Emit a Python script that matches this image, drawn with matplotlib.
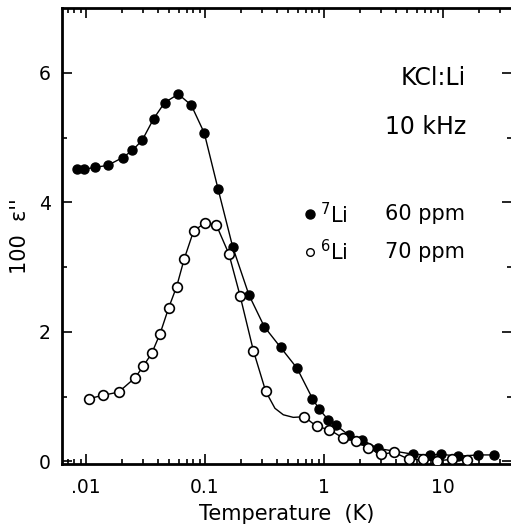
import numpy as np
import matplotlib
matplotlib.use("Agg")
import matplotlib.pyplot as plt
from matplotlib.ticker import FixedLocator, LogLocator, NullFormatter, FixedFormatter

# ---------------- data ----------------
# 7Li, 60 ppm (filled circles)
t_li7 = [0.00845, 0.0096, 0.0119, 0.0152, 0.0203, 0.0245, 0.0297, 0.037, 0.0458,
         0.0597, 0.0767, 0.0986, 0.129, 0.171, 0.234, 0.315, 0.432, 0.593, 0.80,
         0.908, 1.087, 1.26, 1.63, 2.10, 2.84, 5.64, 7.8, 9.7, 13.4, 19.7, 26.7]
e_li7 = [4.51, 4.51, 4.54, 4.57, 4.69, 4.80, 4.96, 5.29, 5.54,
         5.67, 5.50, 5.07, 4.20, 3.31, 2.57, 2.08, 1.76, 1.44, 0.97,
         0.81, 0.64, 0.56, 0.40, 0.33, 0.20, 0.11, 0.10, 0.11, 0.08, 0.10, 0.10]

# 6Li, 70 ppm (open circles)
t_li6 = [0.0107, 0.0138, 0.0188, 0.0258, 0.0303, 0.0357, 0.0419, 0.0495, 0.0578,
         0.067, 0.0803, 0.1, 0.1245, 0.159, 0.197, 0.255, 0.324, 0.682, 0.869,
         1.11, 1.45, 1.86, 2.34, 3.01, 3.87, 5.21, 6.75, 8.85, 11.8, 15.8]
e_li6 = [0.97, 1.02, 1.07, 1.29, 1.47, 1.67, 1.97, 2.37, 2.70,
         3.13, 3.56, 3.68, 3.65, 3.20, 2.56, 1.71, 1.08, 0.69, 0.54,
         0.49, 0.36, 0.31, 0.21, 0.11, 0.14, 0.03, 0.03, 0.01, 0.03, 0.02]

# extra points of the drawn 6Li curve where it bends between two data points
t_li6_curve = [0.387, 0.455, 0.552]
e_li6_curve = [0.82, 0.72, 0.68]

xtick_vals = [0.01, 0.1, 1, 10]
xtick_labels = [".01", "0.1", "1", "10"]
ytick_vals = [0, 2, 4, 6]

# ---------------- style ----------------
plt.rcParams['font.family'] = ['DejaVu Sans']
plt.rcParams['mathtext.fontset'] = 'dejavusans'

fig = plt.figure(figsize=(5.11, 5.29), dpi=100, facecolor="white")
ax = fig.add_axes([61.7 / 511, 65 / 529, 450.3 / 511, 456 / 529])

# curves
ax.plot(t_li7, e_li7, "-", color="k", lw=1.0, zorder=2)
line6 = sorted(zip(t_li6 + t_li6_curve, e_li6 + e_li6_curve))
ax.plot([p[0] for p in line6], [p[1] for p in line6], "-", color="k", lw=1.0, zorder=2)

# points
ax.plot(t_li7, e_li7, "o", ls="none", ms=6.5, mfc="k", mec="k", zorder=3)
ax.plot(t_li6, e_li6, "o", ls="none", ms=7.0, mfc="white", mec="k", mew=1.2, zorder=4)

ax.set_xscale("log")
ax.set_xlim(0.00625, 38)
ax.set_ylim(-0.04, 7.0)

ax.xaxis.set_major_locator(FixedLocator(xtick_vals))
ax.xaxis.set_major_formatter(FixedFormatter(xtick_labels))
ax.xaxis.set_minor_locator(LogLocator(base=10, subs=np.arange(2, 10)))
ax.xaxis.set_minor_formatter(NullFormatter())
ax.yaxis.set_major_locator(FixedLocator(ytick_vals))
ax.yaxis.set_minor_locator(FixedLocator([1, 3, 5]))

for s in ["left", "bottom", "top"]:
    ax.spines[s].set_linewidth(2.0)
ax.spines["right"].set_visible(False)

ax.tick_params(which="both", direction="in", top=True, right=True, width=1.2)
ax.tick_params(which="major", length=7, labelsize=13.5)
ax.tick_params(which="minor", length=3.5)
ax.tick_params(axis="x", which="major", pad=10)
ax.tick_params(axis="y", which="major", pad=8)

ax.set_xlabel("Temperature  (K)", fontsize=15, labelpad=5)
ax.set_ylabel("100  ε''", fontsize=15, labelpad=6)

# annotations
ax.text(0.898, 0.846, "KCl:Li", transform=ax.transAxes, ha="right", va="center", fontsize=17)
ax.text(0.898, 0.739, "10 kHz", transform=ax.transAxes, ha="right", va="center", fontsize=17)

ax.plot([0.551], [0.548], "o", color="k", ms=6.5, transform=ax.transAxes, clip_on=False)
ax.plot([0.551], [0.465], "o", mfc="white", mec="k", mew=1.0, ms=5.5,
        transform=ax.transAxes, clip_on=False)
ax.text(0.574, 0.548, r"$^{7}$Li", transform=ax.transAxes, ha="left", va="center", fontsize=15)
ax.text(0.574, 0.465, r"$^{6}$Li", transform=ax.transAxes, ha="left", va="center", fontsize=15)
ax.text(0.896, 0.548, "60 ppm", transform=ax.transAxes, ha="right", va="center", fontsize=15)
ax.text(0.896, 0.465, "70 ppm", transform=ax.transAxes, ha="right", va="center", fontsize=15)

fig.savefig("out.png", dpi=100)
